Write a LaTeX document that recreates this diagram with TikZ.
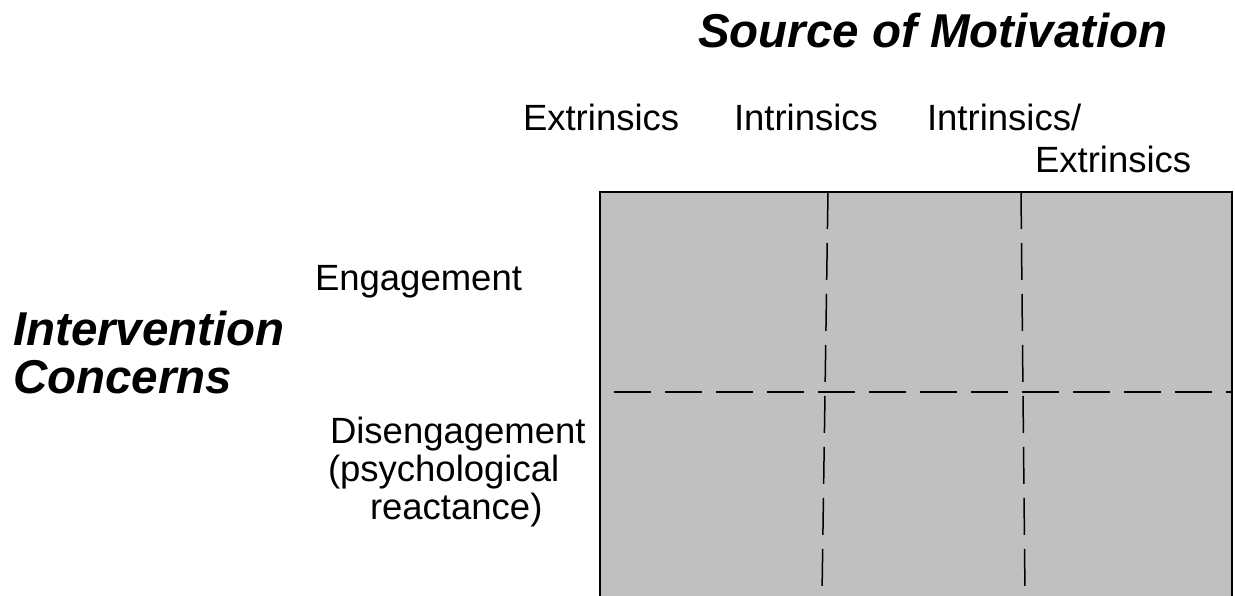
\documentclass[tikz,border=0pt]{standalone}
\usepackage{fontspec}
\setmainfont{Liberation Sans}
\definecolor{cellgray}{HTML}{C0C0C0}
\begin{document}
\begin{tikzpicture}[
        x=1pt, y=-1pt,
        every node/.style={inner sep=0pt, outer sep=0pt},
        titolo/.style={font=\fontsize{47.5}{48}\selectfont\bfseries\itshape, align=left, anchor=base west},
        etichetta/.style={font=\fontsize{36.5}{38}\selectfont, align=left, anchor=base west},
        cornice/.style={draw, line width=1.5pt},
        griglia/.style={draw, line width=1.5pt, dash pattern=on 37pt off 14pt}
    ]

        \useasboundingbox (0,0) rectangle (1235,595);

        % Riquadro grigio
        \fill[cellgray] (600,192) rectangle (1232,600);
        \draw[cornice] (600,600) -- (600,192) -- (1232,192) -- (1232,600);

        % Linee tratteggiate della griglia
        \coordinate (v1a) at (828,192);
        \coordinate (v1b) at (822,595);
        \coordinate (v2a) at (1021,192);
        \coordinate (v2b) at (1025,595);
        \coordinate (h1a) at (614,392);
        \coordinate (h1b) at (1232,392);
        \draw[griglia] (v1a) -- (v1b);
        \draw[griglia] (v2a) -- (v2b);
        \draw[griglia] (h1a) -- (h1b);

        % Titoli (ancora sulla base dell'ultima riga)
        \node[titolo] (fonte) at (698,47) {Source of Motivation};
        \node[titolo] (interv) at (13,393) {Intervention\\Concerns};

        % Colonne
        \node[etichetta] (estr) at (523,130) {Extrinsics};
        \node[etichetta] (intr) at (734,130) {Intrinsics};
        \node[etichetta, font=\fontsize{36.5}{42}\selectfont] (misto) at (927,172) {Intrinsics/\\\hspace{108pt}Extrinsics};

        % Righe
        \node[etichetta] (coinv) at (315,290) {Engagement};
        \node[etichetta] (disimp) at (328,519) {\hspace{2pt}Disengagement\\(psychological\\\hspace{42pt}reactance)};

    \end{tikzpicture}
\end{document}
